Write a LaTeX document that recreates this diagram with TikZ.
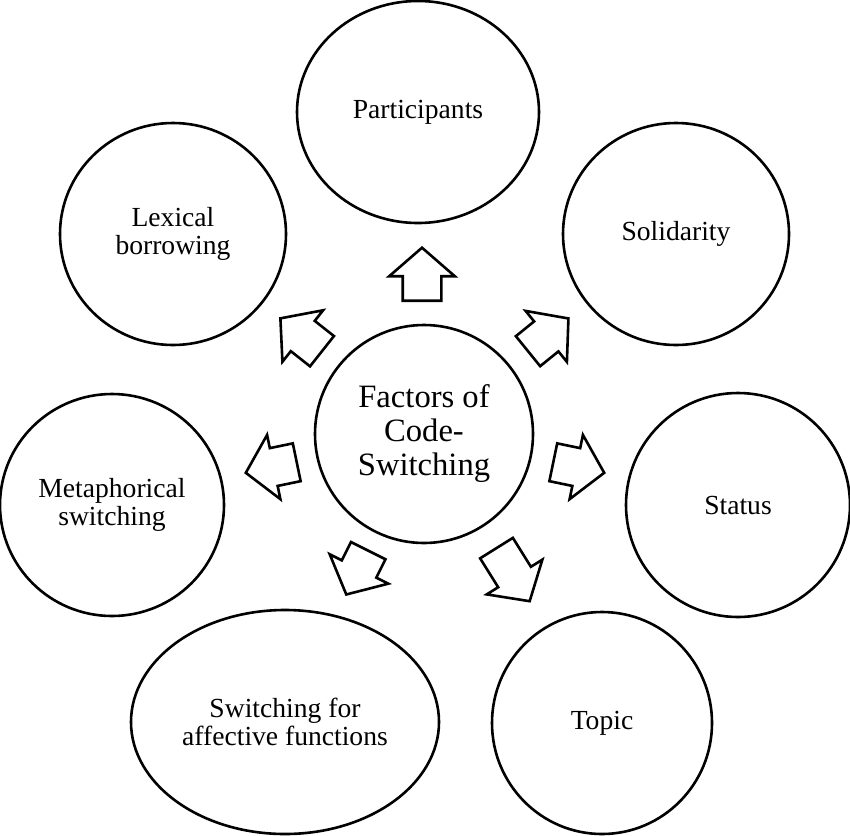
\documentclass[tikz,border=0pt]{standalone}
\usepackage{fontspec}
\setmainfont{Liberation Serif}
\usepackage{tikz}
\usetikzlibrary{shapes.geometric,shapes.arrows}

\begin{document}
\begin{tikzpicture}[
    x=0.5pt, y=-0.5pt,
    factor/.style={ellipse, draw, line width=1.3pt, inner sep=0pt, align=center,
      font=\fontsize{13.8}{14.2}\selectfont},
    hub/.style={circle, draw, line width=1.3pt, inner sep=0pt, minimum size=218pt/2, align=center,
      font=\fontsize{16.3}{17}\selectfont},
    blockarrow/.style={single arrow, draw, line width=1.3pt, inner xsep=0pt, inner ysep=9pt,
      minimum width=31.5pt, single arrow head extend=6.75pt, single arrow tip angle=98, anchor=tail},
  ]
    \useasboundingbox (0,0) rectangle (850,835);
    % centre
    \node[hub] (hub) at (424,434) {Factors of\\Code-\\Switching};
    % factors round it
    \node[factor, minimum width=242pt/2, minimum height=222pt/2] (part) at (418,112) {Participants};
    \node[factor, minimum width=226pt/2, minimum height=222pt/2] (lex) at (173,234) {Lexical\\borrowing};
    \node[factor, minimum width=226pt/2, minimum height=222pt/2] (sol) at (676,234) {Solidarity};
    \node[factor, minimum width=224pt/2, minimum height=222pt/2] (meta) at (112,505) {Metaphorical\\switching};
    \node[factor, minimum width=224pt/2, minimum height=224pt/2] (stat) at (738,505) {Status};
    \node[factor, minimum width=308pt/2, minimum height=224pt/2] (affect) at (285,722) {Switching for\\affective functions};
    \node[factor, minimum width=220pt/2, minimum height=222pt/2] (topic) at (602,723) {Topic};
    % hollow arrows, placed by their tails
    \node[blockarrow, minimum height=26.5pt, rotate=90] (toPart) at (422,302) {};
    \node[blockarrow, minimum height=26.5pt, rotate=141.7] (toLex) at (323,352) {};
    \node[blockarrow, minimum height=26pt, rotate=39] (toSol) at (527,352) {};
    \node[blockarrow, minimum height=26pt, rotate=191.7] (toMeta) at (298,462) {};
    \node[blockarrow, minimum height=26pt, rotate=-11.7] (toStat) at (552,462) {};
    \node[blockarrow, minimum height=24.5pt, rotate=243.4] (toAffect) at (368.8,549.5) {};
    \node[blockarrow, minimum height=31.3pt, rotate=-58] (toTopic) at (495.8,547) {};
\end{tikzpicture}
\end{document}
